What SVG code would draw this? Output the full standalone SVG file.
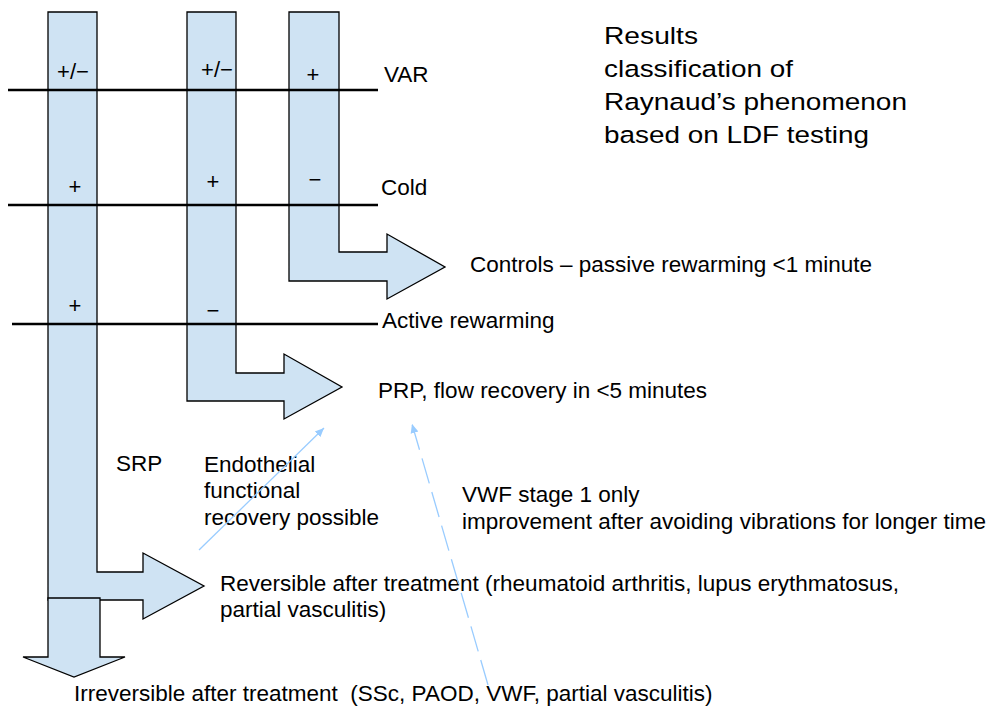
<svg xmlns="http://www.w3.org/2000/svg" width="987" height="710" viewBox="0 0 987 710">
<style>
.col{fill:#cfe3f3;stroke:#000;stroke-width:1.3}
.ln{stroke:#000;stroke-width:2.5;fill:none}
text{font-family:"Liberation Sans",Arial,sans-serif;fill:#000}
.t{font-size:22.5px}
.s{font-size:22px}
.title{font-size:24.5px}
.c{text-anchor:middle}
.bl{stroke:#99ccff;stroke-width:1.3;fill:none}
</style>
<defs>
<marker id="ah" markerWidth="10" markerHeight="10" refX="9" refY="5" orient="auto" markerUnits="userSpaceOnUse">
<path d="M0,1 L9,5 L0,9 Z" fill="#99ccff"/>
</marker>
</defs>
<g id="col3"><path class="col" d="M289,12 H339 V252 H387 V234 L445,267 L387,299 V281 H289 Z"/></g>
<g id="col2"><path class="col" d="M187,12 H236 V373 H284 V354 L342,387 L284,419 V401 H187 Z"/></g>
<g id="col1"><path class="col" d="M48,12 H97 V572 H143 V553 L204,586 L143,619 V600 H48 Z"/></g>
<g id="col1down"><path class="col" d="M48,598 H100 V657 H125 L74,677 L23,657 H48 Z"/></g>
<g id="lines">
<line class="ln" x1="8" y1="90" x2="378" y2="90"/>
<line class="ln" x1="8" y1="205" x2="378" y2="205"/>
<line class="ln" x1="12" y1="324" x2="378" y2="324"/>
</g>
<g id="signs" class="s">
<text class="c" x="73" y="79">+/−</text>
<text class="c" x="217" y="77">+/−</text>
<text class="c" x="313" y="82">+</text>
<text class="c" x="75" y="194">+</text>
<text class="c" x="213" y="189">+</text>
<text class="c" x="315" y="187">−</text>
<text class="c" x="75" y="313">+</text>
<text class="c" x="213" y="318">−</text>
</g>
<g id="rowlabels" class="t">
<text x="384" y="82">VAR</text>
<text x="381" y="195">Cold</text>
<text x="382" y="328">Active rewarming</text>
</g>
<g id="title" class="title">
<text x="604" y="44" textLength="94" lengthAdjust="spacingAndGlyphs">Results</text>
<text x="604" y="77" textLength="189" lengthAdjust="spacingAndGlyphs">classification of</text>
<text x="604" y="110" textLength="303" lengthAdjust="spacingAndGlyphs">Raynaud’s phenomenon</text>
<text x="604" y="143" textLength="265" lengthAdjust="spacingAndGlyphs">based on LDF testing</text>
</g>
<g id="outcomes" class="t">
<text x="470" y="272">Controls – passive rewarming &lt;1 minute</text>
<text x="378" y="398">PRP, flow recovery in &lt;5 minutes</text>
<text x="116" y="471">SRP</text>
<text x="204" y="472">Endothelial</text>
<text x="204" y="498">functional</text>
<text x="204" y="525">recovery possible</text>
<text x="462" y="502">VWF stage 1 only</text>
<text x="462" y="529">improvement after avoiding vibrations for longer time</text>
<text x="220" y="591">Reversible after treatment (rheumatoid arthritis, lupus erythmatosus,</text>
<text x="220" y="617">partial vasculitis)</text>
<text x="74" y="701" xml:space="preserve">Irreversible after treatment  (SSc, PAOD, VWF, partial vasculitis)</text>
</g>
<g id="connectors">
<line class="bl" x1="199" y1="550" x2="324" y2="428" marker-end="url(#ah)"/>
<line class="bl" x1="488" y1="685" x2="412" y2="424" stroke-dasharray="26,9" marker-end="url(#ah)"/>
</g>
</svg>
